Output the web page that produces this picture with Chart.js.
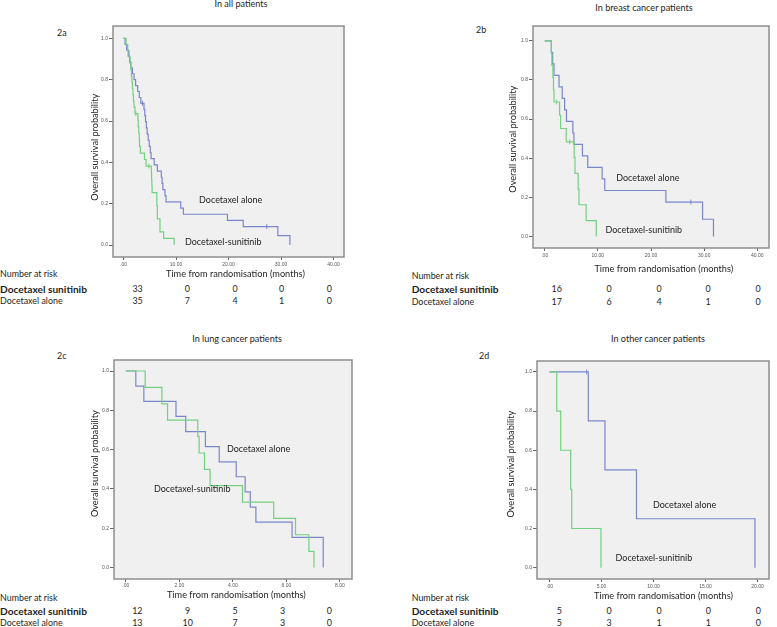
<!DOCTYPE html>
<html><head><meta charset="utf-8">
<script src="https://cdn.jsdelivr.net/npm/chart.js@4.4.1/dist/chart.umd.min.js"></script>
<style>
html,body{margin:0;padding:0;background:#fff;}
#page{position:relative;width:777px;height:627px;overflow:hidden;background:#fff;font-family:Lato,'Open Sans',sans-serif;color:#222;}
canvas{position:absolute;}
.t{position:absolute;white-space:nowrap;line-height:1;}
</style></head><body><div id="page"></div>
<script>
// ---------- DATA ----------
const Y_TICKS = [0, 0.2, 0.4, 0.6, 0.8, 1.0];
const Y_LABELS = ['0.0', '0.2', '0.4', '0.6', '0.8', '1.0'];

const A_X_TICKS = [0, 10, 20, 30, 40];
const A_X_LABELS = ['.00', '10.00', '20.00', '30.00', '40.00'];
const B_X_TICKS = [0, 10, 20, 30, 40];
const B_X_LABELS = ['.00', '10.00', '20.00', '30.00', '40.00'];
const C_X_TICKS = [0, 2, 4, 6, 8];
const C_X_LABELS = ['.00', '2.00', '4.00', '6.00', '8.00'];
const D_X_TICKS = [0, 5, 10, 15, 20];
const D_X_LABELS = ['.00', '5.00', '10.00', '15.00', '20.00'];

// Kaplan-Meier steps: time of drop, survival level after drop
const A_ALONE_T = [0,0.3,0.6,0.9,1.15,1.4,1.7,2.0,2.3,2.7,3.0,3.3,3.9,4.05,4.2,4.35,4.5,4.7,4.9,5.1,5.25,5.85,6.45,7.2,7.35,7.5,7.9,8.1,10.9,11.4,19.8,22.8,29.4,31.7];
const A_ALONE_S = [1,0.971,0.943,0.914,0.886,0.857,0.829,0.800,0.771,0.743,0.714,0.686,0.656,0.626,0.597,0.567,0.537,0.507,0.477,0.447,0.418,0.388,0.358,0.328,0.298,0.268,0.239,0.209,0.179,0.149,0.119,0.089,0.045,0];
const A_ALONE_CENS_T = [3.6, 27.3];
const A_ALONE_CENS_S = [0.686, 0.089];
const A_SUN_T = [0,0.5,0.8,1.1,1.25,1.4,1.5,1.6,1.7,1.8,1.9,2.0,2.2,2.75,2.8,2.9,3.0,3.05,3.2,4.0,4.3,5.3,5.35,5.4,5.45,6.35,6.45,6.95,7.65,9.65];
const A_SUN_S = [1,0.970,0.939,0.909,0.879,0.848,0.818,0.788,0.758,0.727,0.697,0.667,0.636,0.604,0.573,0.541,0.509,0.477,0.445,0.414,0.382,0.35,0.318,0.286,0.254,0.191,0.127,0.064,0.032,0];
const A_SUN_CENS_T = [2.35, 4.85];
const A_SUN_CENS_S = [0.636, 0.382];

const B_ALONE_T = [0,1.25,1.5,1.75,2.7,3.3,3.75,4.1,5.3,5.5,7.1,8.1,10.8,11.3,22.8,29.7,31.75];
const B_ALONE_S = [1,0.941,0.882,0.824,0.765,0.706,0.647,0.588,0.529,0.471,0.412,0.353,0.294,0.235,0.176,0.088,0];
const B_ALONE_CENS_T = [27.5];
const B_ALONE_CENS_S = [0.176];
const B_SUN_T = [0,1.25,1.35,1.55,1.65,1.75,2.8,3.0,4.05,5.55,5.7,6.3,6.45,7.8,9.7];
const B_SUN_S = [1,0.9375,0.875,0.8125,0.75,0.6875,0.620,0.552,0.484,0.404,0.323,0.242,0.162,0.081,0];
const B_SUN_CENS_T = [2.2, 4.7];
const B_SUN_CENS_S = [0.6875, 0.484];

const C_ALONE_T = [0,0.375,0.675,1.875,2.24,2.975,3.49,4.125,4.46,4.65,4.86,6.21,7.375];
const C_ALONE_S = [1,0.923,0.846,0.769,0.692,0.615,0.538,0.462,0.385,0.308,0.231,0.154,0];
const C_SUN_T = [0,0.725,1.35,1.56,2.69,2.74,2.94,3.15,4.36,5.525,6.34,6.84,7.03];
const C_SUN_S = [1,0.917,0.833,0.75,0.667,0.583,0.5,0.417,0.333,0.25,0.167,0.083,0];

const D_ALONE_T = [0,3.73,5.33,8.36,19.75];
const D_ALONE_S = [1,0.75,0.5,0.25,0];
const D_ALONE_CENS_T = [3.57];
const D_ALONE_CENS_S = [1.0];
const D_SUN_T = [0,0.7,1.08,2.04,2.14,4.95];
const D_SUN_S = [1,0.8,0.6,0.4,0.2,0];

// numbers at risk
const RISK_LABELS = ['Docetaxel sunitinib', 'Docetaxel alone'];
const A_RISK_SUN = [33,0,0,0,0];
const A_RISK_ALONE = [35,7,4,1,0];
const B_RISK_SUN = [16,0,0,0,0];
const B_RISK_ALONE = [17,6,4,1,0];
const C_RISK_SUN = [12,9,5,3,0];
const C_RISK_ALONE = [13,10,7,3,0];
const D_RISK_SUN = [5,0,0,0,0];
const D_RISK_ALONE = [5,3,1,1,0];

// ---------- STYLE / LAYOUT ----------
const FONT = 'Lato';
const BLUE = '#7a86cc';
const GREEN = '#74d081';
const page = document.getElementById('page');
const mctx = document.createElement('canvas').getContext('2d');
function fit(text, target, weight) {
  mctx.font = (weight || 'normal') + ' 20px ' + FONT;
  return 20 * target / mctx.measureText(text).width;
}
const S_XT = fit('Time from randomisation (months)', 139);
const S_YT = fit('Overall survival probability', 107);
const S_LAB = fit('Docetaxel alone', 63.3);
const S_TAB = fit('Docetaxel alone', 62.7);
const S_BOLD = fit('Docetaxel sunitinib', 87, 'bold');
const S_TIT = fit('In breast cancer patients', 97.7);

function padText(text, shift, size) {
  mctx.font = 'normal ' + size + 'px ' + FONT;
  const sw = mctx.measureText('\u00A0').width || size * 0.2;
  const n = Math.round(Math.abs(2 * shift) / sw);
  const sp = '\u00A0'.repeat(n);
  return shift > 0 ? sp + text : text + sp;
}

function txt(s, x, y, size, opt) {
  opt = opt || {};
  const d = document.createElement('div');
  d.className = 't';
  d.textContent = s;
  d.style.fontSize = size + 'px';
  d.style.left = x + 'px';
  d.style.top = (y - 0.5) + 'px';
  const tx = opt.align === 'center' ? '-50%' : opt.align === 'right' ? '-100%' : '0';
  d.style.transform = 'translate(' + tx + ',-50%)';
  if (opt.bold) d.style.fontWeight = 'bold';
  d.style.color = opt.color || '#1e1e1e';
  page.appendChild(d);
}

const pts = (T, S) => T.map((t, i) => ({x: t, y: S[i]}));

const decor = {
  id: 'kmDecor',
  beforeDraw(chart) {
    const {ctx, chartArea: a} = chart;
    ctx.save();
    ctx.fillStyle = '#f0f0f0';
    ctx.fillRect(a.left, a.top, a.right - a.left, a.bottom - a.top);
    ctx.restore();
  },
  afterDraw(chart, args, opts) {
    const {ctx, chartArea: a, scales} = chart;
    ctx.save();
    ctx.strokeStyle = '#8e8e8e';
    ctx.lineWidth = 1.5;
    ctx.strokeRect(a.left, a.top, a.right - a.left, a.bottom - a.top);
    ctx.fillStyle = '#1e1e1e';
    ctx.font = 'normal ' + S_LAB + 'px ' + FONT;
    ctx.textAlign = 'left';
    ctx.textBaseline = 'middle';
    (opts.labels || []).forEach(l => {
      ctx.fillText(l.text, scales.x.getPixelForValue(l.x), scales.y.getPixelForValue(l.y));
    });
    ctx.restore();
  }
};

const PANELS = [
  {id:'2a', title:'In all patients', titleX:241, titleY:4.5, idX:57, idY:33,
   frame:{l:113,t:24,r:345,b:257}, xr:[-2,42], yr:[-0.058,1.06],
   yTitleX:95, yShift:-6, xTitleY:274.5, xShift:7, xTickY:264.3,
   xTicks:A_X_TICKS, xLabels:A_X_LABELS,
   alone:[A_ALONE_T,A_ALONE_S], sun:[A_SUN_T,A_SUN_S],
   aloneC:[A_ALONE_CENS_T,A_ALONE_CENS_S], sunC:[A_SUN_CENS_T,A_SUN_CENS_S],
   labels:[{text:'Docetaxel alone',x:14.4,y:0.215},{text:'Docetaxel-sunitinib',x:11.7,y:0.014}],
   riskX:0, riskY:[274,289.5,301.8], numX:[137.6,187.3,235,281.7,329.3], risk:[A_RISK_SUN,A_RISK_ALONE]},
  {id:'2b', title:'In breast cancer patients', titleX:644, titleY:8.3, idX:476, idY:30,
   frame:{l:533,t:24,r:770,b:248}, xr:[-2.2,42.2], yr:[-0.059,1.076],
   yTitleX:513, yShift:-2.3, xTitleY:269.5, xShift:12.5, xTickY:256,
   xTicks:B_X_TICKS, xLabels:B_X_LABELS,
   alone:[B_ALONE_T,B_ALONE_S], sun:[B_SUN_T,B_SUN_S],
   aloneC:[B_ALONE_CENS_T,B_ALONE_CENS_S], sunC:[B_SUN_CENS_T,B_SUN_CENS_S],
   labels:[{text:'Docetaxel alone',x:13.45,y:0.30},{text:'Docetaxel-sunitinib',x:11.44,y:0.031}],
   riskX:411.7, riskY:[276.7,289.3,302.3], numX:[556.7,609,659,708,758], risk:[B_RISK_SUN,B_RISK_ALONE]},
  {id:'2c', title:'In lung cancer patients', titleX:237, titleY:339, idX:57, idY:356,
   frame:{l:114,t:359,r:352,b:579}, xr:[-0.44,8.45], yr:[-0.058,1.056],
   yTitleX:95, yShift:6, xTitleY:595.8, xShift:3.3, xTickY:586,
   xTicks:C_X_TICKS, xLabels:C_X_LABELS,
   alone:[C_ALONE_T,C_ALONE_S], sun:[C_SUN_T,C_SUN_S],
   aloneC:null, sunC:null,
   labels:[{text:'Docetaxel alone',x:3.78,y:0.605},{text:'Docetaxel-sunitinib',x:1.05,y:0.398}],
   riskX:0, riskY:[598.3,611.3,623.7], numX:[137.3,187.7,235,282.7,329.3], risk:[C_RISK_SUN,C_RISK_ALONE]},
  {id:'2d', title:'In other cancer patients', titleX:658, titleY:339, idX:479, idY:356,
   frame:{l:537,t:359,r:770,b:579}, xr:[-1.2,21.1], yr:[-0.058,1.056],
   yTitleX:511.7, yShift:6, xTitleY:596, xShift:11, xTickY:586.5,
   xTicks:D_X_TICKS, xLabels:D_X_LABELS,
   alone:[D_ALONE_T,D_ALONE_S], sun:[D_SUN_T,D_SUN_S],
   aloneC:[D_ALONE_CENS_T,D_ALONE_CENS_S], sunC:null,
   labels:[{text:'Docetaxel alone',x:9.95,y:0.32},{text:'Docetaxel-sunitinib',x:6.35,y:0.05}],
   riskX:411.7, riskY:[598.3,611.3,623.7], numX:[559.3,609,659,708.3,758.3], risk:[D_RISK_SUN,D_RISK_ALONE]}
];

function makeChart(p) {
  const f = p.frame;
  const yLH = S_YT * 1.2, xLH = S_XT * 1.2;
  const TL = 3, TICKF = 5;
  const cl = Math.round(p.yTitleX - yLH / 2);
  const ct = f.t - 3;
  const cr = f.r + 4;
  const cb = Math.round(p.xTitleY + xLH / 2);
  const cv = document.createElement('canvas');
  cv.width = cr - cl; cv.height = cb - ct;
  cv.style.left = cl + 'px'; cv.style.top = ct + 'px';
  page.appendChild(cv);
  const datasets = [
    {data: pts(p.sun[0], p.sun[1]), borderColor: GREEN},
    {data: pts(p.alone[0], p.alone[1]), borderColor: BLUE}
  ].map(d => Object.assign(d, {stepped: 'before', borderWidth: 1.2, pointRadius: 0, fill: false, tension: 0}));
  if (p.sunC) datasets.unshift({data: pts(p.sunC[0], p.sunC[1]), borderColor: GREEN, showLine: false,
     pointStyle: 'line', rotation: 90, pointRadius: 2.5, borderWidth: 1});
  if (p.aloneC) datasets.unshift({data: pts(p.aloneC[0], p.aloneC[1]), borderColor: BLUE, showLine: false,
     pointStyle: 'line', rotation: 90, pointRadius: 2.5, borderWidth: 1});
  const xPad = p.xTickY - f.b - TL - TICKF * 1.2 / 2;
  new Chart(cv, {
    type: 'line',
    data: {datasets},
    options: {
      responsive: false, animation: false, devicePixelRatio: 1, events: [],
      layout: {padding: {top: f.t - ct, right: cr - f.r, left: 0, bottom: 0}},
      plugins: {legend: {display: false}, tooltip: {enabled: false}, kmDecor: {labels: p.labels}},
      scales: {
        x: {type: 'linear', min: p.xr[0], max: p.xr[1],
          afterFit(s) { s.height = cb - f.b; },
          afterBuildTicks(s) { s.ticks = p.xTicks.map(v => ({value: v})); },
          ticks: {callback: (v, i) => p.xLabels[i], font: {size: TICKF, family: 'Liberation Sans'}, color: '#555',
                  padding: xPad, maxRotation: 0, autoSkip: false},
          grid: {drawOnChartArea: false, drawTicks: true, tickLength: TL, color: '#666', lineWidth: 1},
          border: {display: false},
          title: {display: true, text: padText('Time from randomisation (months)', p.xShift, S_XT),
                  font: {size: S_XT, family: FONT}, color: '#1e1e1e', padding: 0}
        },
        y: {type: 'linear', min: p.yr[0], max: p.yr[1],
          afterFit(s) { s.width = f.l - cl; },
          afterBuildTicks(s) { s.ticks = Y_TICKS.map(v => ({value: v})); },
          ticks: {callback: (v, i) => Y_LABELS[i], font: {size: TICKF, family: 'Liberation Sans'}, color: '#555', padding: 1},
          grid: {drawOnChartArea: false, drawTicks: true, tickLength: TL + 1, color: '#666', lineWidth: 1},
          border: {display: false},
          title: {display: true, text: padText('Overall survival probability', p.yShift, S_YT),
                  font: {size: S_YT, family: FONT}, color: '#1e1e1e', padding: 0}
        }
      }
    },
    plugins: [decor]
  });
  // texts
  txt(p.title, p.titleX, p.titleY, S_TIT, {align: 'center'});
  txt(p.id, p.idX, p.idY, S_TAB);
  txt('Number at risk', p.riskX, p.riskY[0], S_TAB);
  txt(RISK_LABELS[0], p.riskX, p.riskY[1], S_BOLD, {bold: true});
  txt(RISK_LABELS[1], p.riskX, p.riskY[2], S_TAB);
  p.risk.forEach((row, r) => row.forEach((n, i) => txt(String(n), p.numX[i], p.riskY[r + 1], S_TAB, {align: 'center'})));
}
PANELS.forEach(makeChart);
</script>
</body></html>
